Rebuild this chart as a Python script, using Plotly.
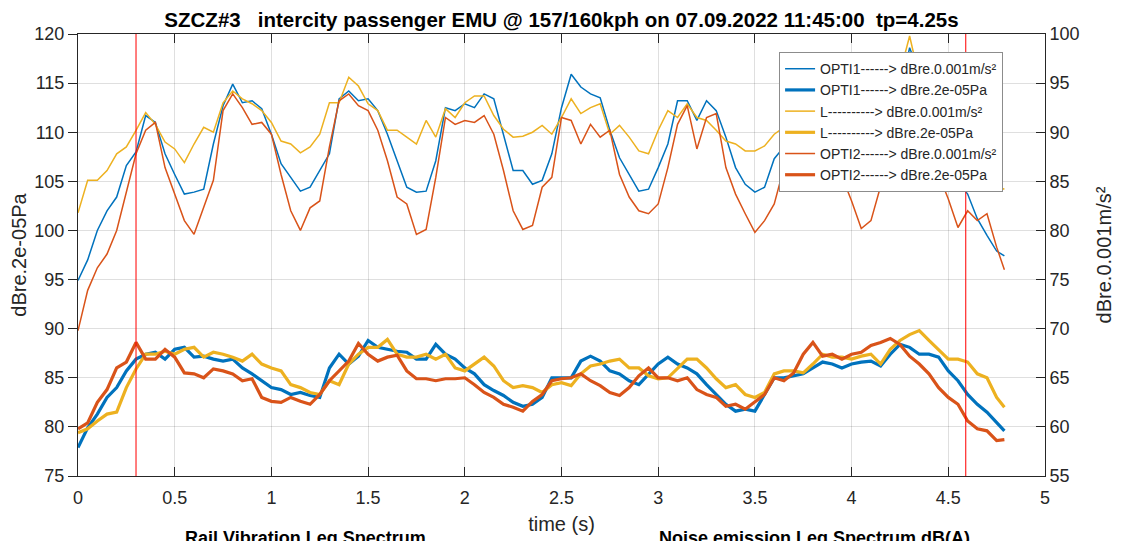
import plotly.graph_objects as go

# time axis (s): 0.05 s sampling, last sample at 4.79 s
time_s = [round(i * 0.05, 2) for i in range(96)] + [4.79]

# Rail vibration (thin lines, right axis, dBre.0.001m/s²)
opti1_vib = [74.9, 77.0, 80.0, 82.0, 83.4, 86.6, 88.0, 91.7, 91.0, 87.8,
             85.7, 83.7, 83.9, 84.2, 88.8, 92.7, 94.9, 93.0, 93.2, 92.4,
             89.8, 86.8, 85.4, 84.0, 84.4, 86.1, 87.8, 93.4, 94.2, 93.2,
             93.4, 92.2, 89.8, 87.1, 84.4, 83.9, 84.0, 87.1, 92.5, 92.2,
             92.9, 92.5, 93.9, 93.4, 89.8, 86.1, 86.1, 84.7, 85.1, 87.8,
             92.5, 95.9, 94.6, 93.9, 93.5, 90.2, 87.4, 85.7, 84.0, 84.2,
             86.4, 88.8, 93.2, 93.2, 91.2, 93.2, 92.2, 89.5, 86.4, 84.7,
             83.9, 84.4, 87.3, 88.5, 92.0, 93.5, 92.0, 90.0, 87.5, 86.0,
             85.5, 85.2, 85.0, 86.5, 90.0, 94.0, 98.6, 96.0, 92.5, 89.0,
             86.5, 85.0, 83.7, 81.2, 79.5, 77.9, 77.4]
l_vib = [81.8, 85.1, 85.1, 86.1, 87.8, 88.5, 90.2, 92.0, 90.8, 89.0,
         88.3, 86.9, 88.8, 90.5, 90.0, 93.0, 94.2, 93.4, 92.9, 92.2,
         91.0, 89.1, 88.8, 87.9, 88.5, 89.8, 93.0, 93.0, 95.6, 94.7,
         92.9, 92.2, 90.2, 90.2, 89.5, 88.8, 91.2, 89.5, 92.4, 91.5,
         93.0, 93.7, 93.7, 91.7, 90.3, 89.5, 89.6, 90.0, 90.7, 89.8,
         91.5, 93.4, 91.9, 92.5, 92.9, 89.8, 90.7, 89.5, 88.1, 87.8,
         90.2, 92.2, 91.5, 92.9, 91.5, 91.2, 90.2, 89.1, 88.8, 88.1,
         88.1, 88.6, 89.8, 90.5, 92.0, 92.5, 92.0, 91.0, 90.0, 89.5,
         89.0, 89.5, 90.0, 91.5, 93.5, 96.0, 99.8, 95.5, 93.0, 91.5,
         90.0, 89.0, 88.0, 86.5, 85.0, 84.5, 84.2]
opti2_vib = [69.8, 73.9, 76.2, 77.6, 80.0, 84.0, 87.8, 90.2, 91.0, 86.4,
             83.6, 81.0, 79.6, 82.3, 85.1, 92.2, 93.9, 92.5, 90.8, 91.0,
             89.8, 85.7, 82.0, 80.0, 82.3, 83.0, 88.5, 93.2, 93.9, 92.7,
             92.2, 90.2, 87.1, 83.4, 82.7, 79.6, 80.1, 85.4, 91.5, 90.8,
             91.2, 91.0, 91.7, 89.8, 86.1, 82.0, 80.1, 80.5, 84.4, 85.4,
             91.5, 91.2, 88.8, 90.8, 89.5, 90.2, 85.7, 83.4, 82.0, 81.7,
             82.7, 86.4, 90.8, 92.7, 88.3, 91.5, 91.9, 86.4, 83.7, 81.7,
             79.8, 81.0, 82.7, 86.4, 90.5, 91.5, 90.0, 88.0, 86.5, 85.5,
             83.0, 80.2, 81.0, 84.5, 87.0, 90.0, 92.0, 90.0, 87.5, 85.7,
             83.2, 80.3, 82.0, 81.0, 81.7, 78.3, 76.0]

# Noise (thick lines, left axis, dBre.2e-05Pa)
opti1_pa = [77.9, 79.9, 81.3, 83.0, 84.0, 85.7, 86.9, 87.4, 87.6, 86.9,
            87.9, 88.1, 87.1, 87.2, 86.9, 86.7, 86.9, 86.0, 85.4, 84.7,
            84.0, 83.8, 83.3, 83.5, 83.2, 83.0, 86.0, 87.4, 86.4, 87.2,
            88.8, 88.1, 87.9, 87.7, 87.6, 86.9, 86.9, 88.4, 87.4, 86.9,
            86.0, 85.4, 84.3, 83.7, 83.2, 82.5, 82.1, 82.3, 83.0, 85.0,
            85.0, 85.0, 86.7, 87.2, 86.7, 85.7, 85.4, 84.7, 84.3, 85.4,
            86.4, 87.1, 86.4, 86.0, 85.4, 84.3, 83.3, 82.3, 81.6, 81.8,
            81.6, 83.3, 85.0, 85.0, 85.2, 85.4, 86.0, 86.6, 86.4, 86.0,
            86.4, 86.6, 86.7, 86.2, 87.4, 88.4, 88.1, 87.4, 87.4, 87.1,
            85.7, 84.7, 83.3, 82.3, 81.5, 80.4, 79.6]
l_pa = [79.4, 79.8, 80.6, 81.3, 81.5, 84.0, 85.9, 87.4, 87.4, 87.7,
        87.4, 87.9, 88.1, 87.1, 87.6, 87.4, 87.1, 86.7, 87.4, 86.4,
        86.0, 85.7, 84.3, 84.0, 83.5, 83.3, 84.7, 84.3, 86.4, 87.4,
        88.1, 88.1, 88.9, 87.4, 87.1, 87.1, 87.4, 86.9, 87.4, 86.0,
        85.7, 86.4, 87.1, 86.2, 84.7, 84.0, 84.2, 84.0, 83.5, 84.3,
        84.5, 84.2, 85.4, 86.2, 86.4, 86.7, 86.9, 86.0, 86.0, 85.2,
        84.9, 85.0, 86.0, 86.9, 86.9, 86.0, 84.9, 84.0, 84.3, 83.3,
        83.0, 83.5, 85.4, 85.7, 85.7, 85.5, 86.4, 87.4, 87.1, 87.1,
        86.9, 87.2, 87.4, 86.4, 87.9, 88.8, 89.4, 89.8, 88.8, 87.9,
        86.9, 86.9, 86.6, 85.4, 85.0, 83.0, 82.0]
opti2_pa = [79.8, 80.4, 82.5, 83.8, 86.0, 86.6, 88.6, 86.9, 86.9, 87.9,
            87.1, 85.5, 85.4, 85.0, 85.9, 85.7, 85.4, 84.7, 84.9, 83.0,
            82.6, 82.5, 83.0, 82.6, 82.3, 83.3, 84.7, 85.7, 86.7, 88.5,
            87.4, 86.7, 87.1, 87.3, 85.7, 84.9, 84.9, 84.7, 84.9, 84.9,
            85.0, 84.3, 83.5, 83.0, 82.3, 82.0, 81.6, 82.6, 83.3, 84.7,
            84.9, 85.0, 85.4, 84.7, 84.2, 83.5, 83.2, 84.0, 85.2, 86.0,
            85.0, 85.0, 84.7, 85.0, 83.8, 83.3, 83.0, 82.1, 82.3, 81.8,
            82.6, 83.3, 85.0, 84.7, 85.5, 87.4, 88.6, 87.2, 87.4, 86.9,
            87.4, 87.6, 88.3, 88.6, 89.0, 88.4, 87.2, 86.4, 85.4, 84.0,
            83.0, 82.3, 80.6, 79.8, 79.6, 78.6, 78.7]

marker_times = [0.3, 4.59]

C_BLUE = "#0072BD"
C_ORANGE = "#D95319"
C_YELLOW = "#EDB120"
FONT = "Liberation Sans, Arial, Helvetica, sans-serif"
INK = "#262626"

series = [
    ("OPTI1------> dBre.0.001m/s²", opti1_vib, C_BLUE, 1.5, "y2"),
    ("OPTI1------> dBre.2e-05Pa", opti1_pa, C_BLUE, 3.2, "y"),
    ("L----------> dBre.0.001m/s²", l_vib, C_YELLOW, 1.5, "y2"),
    ("L----------> dBre.2e-05Pa", l_pa, C_YELLOW, 3.2, "y"),
    ("OPTI2------> dBre.0.001m/s²", opti2_vib, C_ORANGE, 1.5, "y2"),
    ("OPTI2------> dBre.2e-05Pa", opti2_pa, C_ORANGE, 3.2, "y"),
]

fig = go.Figure()
for name, vals, col, w, ax in series:
    fig.add_trace(go.Scatter(x=time_s, y=vals, name=name, mode="lines",
                             line=dict(color=col, width=w), yaxis=ax))

for t in marker_times:
    fig.add_shape(type="line", xref="x", yref="paper", x0=t, x1=t, y0=0, y1=1,
                  line=dict(color="rgba(255,0,0,0.85)", width=1.2), layer="above")

grid = "rgba(38,38,38,0.15)"
fig.update_layout(
    width=1124, height=541,
    margin=dict(l=70, r=87, t=26, b=73),
    paper_bgcolor="white", plot_bgcolor="white",
    font=dict(family=FONT, color=INK, size=18),
    title=dict(text="<b>SZCZ#3\u00a0\u00a0\u00a0intercity passenger EMU @ 157/160kph on 07.09.2022 11:45:00\u00a0\u00a0tp=4.25s</b>",
               x=0.5, xref="paper", xanchor="center", y=0.979, yref="container", yanchor="middle",
               font=dict(size=20.5, color="black", family=FONT)),
    xaxis=dict(range=[0, 5], dtick=0.5, tick0=0, showgrid=True, gridcolor=grid,
               showline=True, linecolor=INK, linewidth=1, mirror="ticks",
               ticks="inside", ticklen=9, tickcolor=INK, zeroline=False, automargin=False,
               tickfont=dict(size=18, color=INK), ticklabelstandoff=5,
               title=dict(text="time (s)", font=dict(size=20, color=INK), standoff=10)),
    yaxis=dict(range=[75, 120], dtick=5, showgrid=True, gridcolor=grid,
               showline=True, linecolor=INK, linewidth=1, automargin=False,
               ticks="outside", ticklen=9, tickcolor=INK, zeroline=False,
               tickfont=dict(size=18, color=INK),
               title=dict(text="dBre.2e-05Pa", font=dict(size=20, color=INK), standoff=4)),
    yaxis2=dict(range=[55, 100], dtick=5, overlaying="y", side="right",
                showgrid=False, showline=True, linecolor=INK, linewidth=1, automargin=False,
                ticks="inside", ticklen=9, tickcolor=INK, zeroline=False,
                tickfont=dict(size=18, color=INK),
                title=dict(text="dBre.0.001m/s²", font=dict(size=20, color=INK), standoff=18)),
    legend=dict(x=0.725, y=0.959, xanchor="left", yanchor="top",
                bgcolor="white", bordercolor="#8c8c8c", borderwidth=1,
                font=dict(size=14, color=INK, family=FONT), tracegroupgap=0,
                traceorder="normal"),
    showlegend=True,
)

fig.add_annotation(text="<b>Rail Vibration Leq Spectrum</b>", xref="paper", yref="paper",
                   x=0.235, y=-0.113, xanchor="center", yanchor="top", showarrow=False,
                   font=dict(size=18, color="black", family=FONT))
fig.add_annotation(text="<b>Noise emission Leq Spectrum dB(A)</b>", xref="paper", yref="paper",
                   x=0.762, y=-0.113, xanchor="center", yanchor="top", showarrow=False,
                   font=dict(size=18, color="black", family=FONT))

fig.write_html("out.html")
